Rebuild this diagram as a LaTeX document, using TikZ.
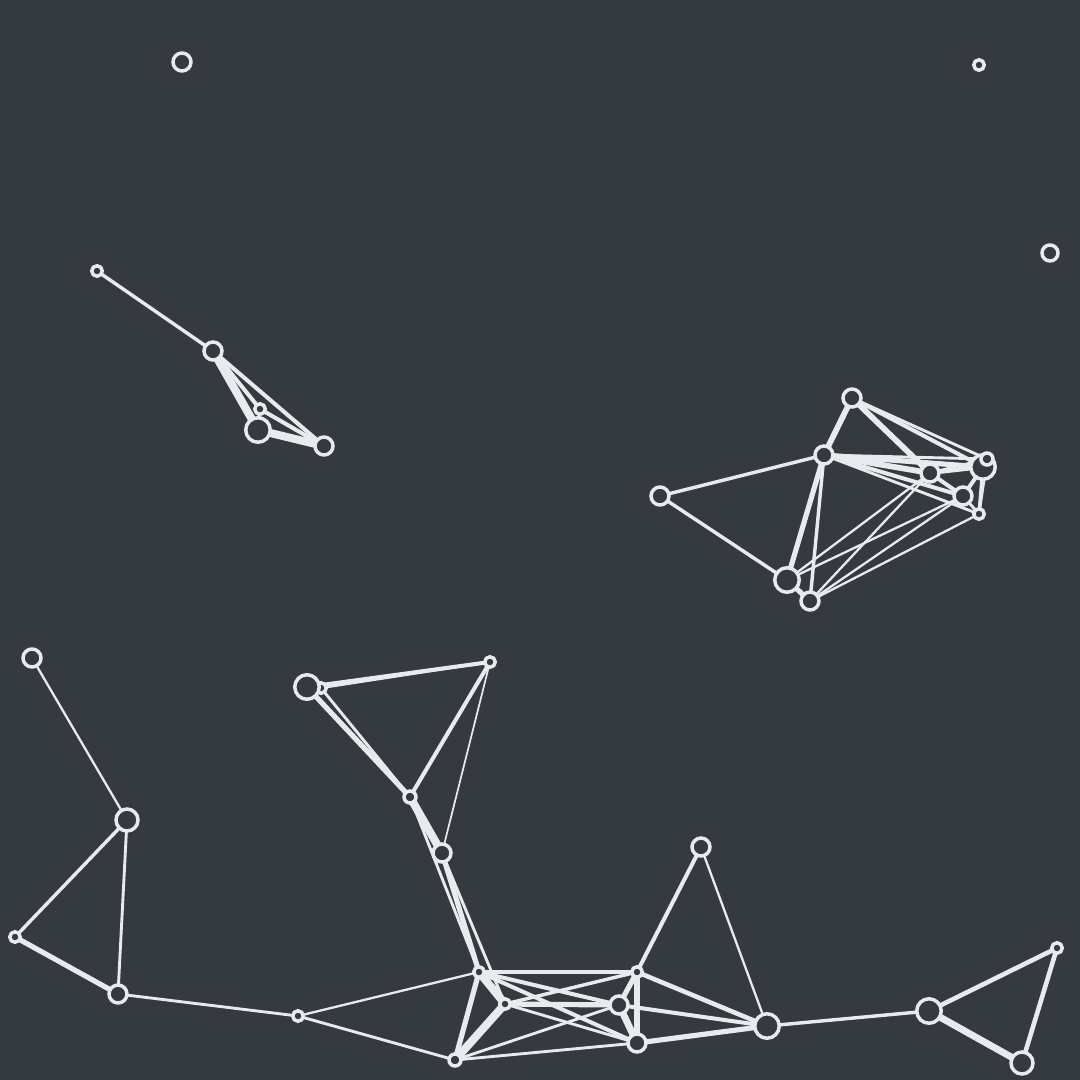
\documentclass[tikz,border=0pt]{standalone}
\pgfdeclarelayer{back}\pgfdeclarelayer{edges}
\pgfsetlayers{back,edges,main}
\definecolor{bgc}{HTML}{353940}
\definecolor{fgc}{HTML}{E8EAED}
\tikzset{
  nd/.style={circle,draw=fgc,fill=bgc,line width=3.5pt,inner sep=0pt},
  nS/.style={nd,minimum size=10.5pt},
  nM/.style={nd,minimum size=18pt},
  nL/.style={nd,minimum size=24.5pt},
  ed/.style={draw=fgc,line cap=round},
}
\newcommand{\E}[3]{\draw[ed,line width=1.15*#3pt] (#1.center) -- (#2.center);}
\begin{document}
\begin{tikzpicture}[x=1pt,y=-1pt]
\begin{pgfonlayer}{back}
\fill[bgc] (0,0) rectangle (1080,1080);
\end{pgfonlayer}
\useasboundingbox (0,0) rectangle (1080,1080);
% isolated
\node[nM] (A1) at (182,62) {};
\node[nS] (A2) at (979,65) {};
\node[nM,minimum size=16pt] (A3) at (1050,253) {};
% top-left
\node[nS] (B1) at (97,271) {};
\node[nM] (B2) at (213,351) {};
\node[nS] (B3) at (260,409) {};
\node[nL] (B4) at (258,430) {};
\node[nM] (B5) at (324,446) {};
% right cluster
\node[nM] (C1) at (660,496) {};
\node[nM] (C2) at (852,398) {};
\node[nM] (C3) at (824,455) {};
\node[nM] (C4) at (930,473) {};
\node[nL] (C6) at (983,467) {};
\node[nS,minimum size=12pt] (C5) at (987,459) {};
\node[nM] (C7) at (963,496) {};
\node[nS] (C8) at (979,514) {};
\node[nL] (C9) at (787,580) {};
\node[nM] (C10) at (810,601) {};
% left
\node[nM] (D1) at (32,658) {};
\node[nL,minimum size=22pt] (D2) at (127,820) {};
\node[nS] (D3) at (15,937) {};
\node[nM] (D4) at (118,994) {};
% middle
\node[nS] (F1b) at (321,688) {};
\node[nL] (F1) at (307,687) {};
\node[nS] (F2) at (490,662) {};
\node[nS,minimum size=12pt] (F3) at (410,797) {};
\node[nM] (F4) at (442,853) {};
% bottom
\node[nS] (E1) at (298,1016) {};
\node[nS] (G1) at (479,972) {};
\node[nS] (G2) at (505,1004) {};
\node[nS,minimum size=12pt] (G3) at (455,1060) {};
\node[nS] (G4) at (637,972) {};
\node[nM] (G5) at (619,1005) {};
\node[nM] (G6) at (637,1043) {};
\node[nM] (H1) at (701,847) {};
\node[nL] (H2) at (767,1026) {};
\node[nL] (I1) at (929,1011) {};
\node[nS] (I2) at (1057,948) {};
\node[nL,minimum size=22pt] (I3) at (1022,1063) {};
\begin{pgfonlayer}{edges}
\E{B1}{B2}{3}\E{B2}{B4}{7}\E{B2}{B3}{3.5}\E{B2}{B5}{3.5}\E{B3}{B5}{3.5}\E{B4}{B5}{7}\E{B3}{B4}{3.5}
\E{C1}{C3}{3}\E{C1}{C9}{3}\E{C2}{C3}{5}\E{C2}{C4}{5}\E{C2}{C6}{3.5}\E{C2}{C5}{2.5}
\E{C3}{C4}{5}\E{C3}{C6}{4.5}\E{C3}{C5}{2.5}\E{C3}{C7}{3.5}\E{C3}{C8}{2.5}\E{C3}{C9}{4.5}\E{C3}{C10}{3}
\E{C4}{C6}{3.5}\E{C4}{C5}{2.5}\E{C4}{C7}{3.5}\E{C6}{C7}{3.5}\E{C6}{C8}{3}\E{C7}{C8}{2.5}\E{C5}{C8}{2.5}
\E{C9}{C10}{4.5}\E{C9}{C4}{2}\E{C9}{C7}{2}\E{C10}{C4}{2}\E{C10}{C7}{2}\E{C10}{C8}{2}
\E{D1}{D2}{2}\E{D2}{D3}{3}\E{D2}{D4}{2.5}\E{D3}{D4}{4.5}\E{D4}{E1}{2.5}
\E{F1}{F2}{3.5}\E{F1b}{F2}{2}\E{F1}{F3}{4.5}\E{F1b}{F3}{2.5}\E{F2}{F3}{3.5}\E{F2}{F4}{1.5}
\E{F3}{F4}{7}\E{F3}{G1}{2.5}\E{F4}{G1}{4.5}\E{F4}{G2}{2.5}
\E{E1}{G1}{2}\E{E1}{G3}{2.5}\E{G1}{G3}{4.5}\E{G1}{G2}{7}\E{G2}{G3}{7}
\E{G1}{G4}{4}\E{G1}{G5}{3.5}\E{G1}{G6}{3.5}\E{G2}{G4}{3}\E{G2}{G5}{4.5}\E{G2}{G6}{2.5}
\E{G3}{G5}{2.5}\E{G3}{G6}{2.5}
\E{G4}{G5}{4.5}\E{G4}{G6}{6}\E{G5}{G6}{6}\E{G4}{H2}{4}\E{G5}{H2}{3.5}\E{G6}{H2}{4.5}
\E{G4}{H1}{3.5}\E{H1}{H2}{2}\E{H2}{I1}{3}\E{I1}{I2}{4}\E{I1}{I3}{6}\E{I2}{I3}{4}
\end{pgfonlayer}
\end{tikzpicture}
\end{document}
